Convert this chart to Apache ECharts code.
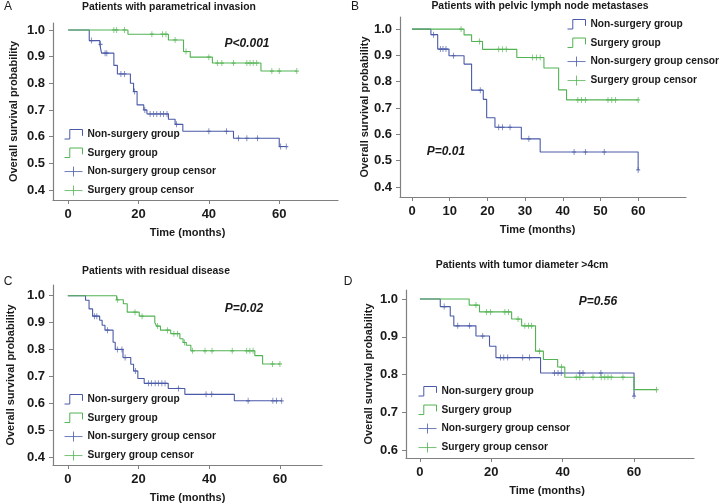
<!DOCTYPE html>
<html>
<head>
<meta charset="utf-8">
<script src="https://cdn.jsdelivr.net/npm/echarts@6/dist/echarts.min.js"></script>
<style>
html,body{margin:0;padding:0;background:#fff;}
#chart{width:722px;height:504px;}
</style>
</head>
<body>
<div id="chart"></div>
<script>
// ---------- DATA ----------
var panelTitles = ['Patients with parametrical invasion','Patients with pelvic lymph node metastases','Patients with residual disease','Patients with tumor diameter >4cm'];
var panelLetters = ['A','B','C','D'];
var pValues = ['P<0.001','P=0.01','P=0.02','P=0.56'];
var seriesNames = ['Non-surgery group','Surgery group','Non-surgery group censor','Surgery group censor'];
var xAxisName = 'Time (months)';
var yAxisName = 'Overall survival probability';

var xTicksA = [0,20,40,60];
var xTicksB = [0,10,20,30,40,50,60];
var xTicksC = [0,20,40,60];
var xTicksD = [0,20,40,60];
var yTicksABC = [0.4,0.5,0.6,0.7,0.8,0.9,1.0];
var yTicksD = [0.6,0.7,0.8,0.9,1.0];

// Panel A
var aNonTimes = [6,9,9.5,13,14,17.7,18.6,19.6,21.5,22.4,28.5,30.4,32.6,47,60];
var aNonSurv  = [0.96,0.946,0.913,0.867,0.835,0.80,0.769,0.719,0.70,0.685,0.665,0.646,0.62,0.594,0.563];
var aNonCens  = [6.6,9.2,10.5,11,15,16,18.9,21.8,23.3,24.3,25.2,26.2,27.1,28.1,30.8,40,45,48.4,50.8,53.8,60.4,62];
var aSurTimes = [17,28.5,32.8,34.7,41,54.8];
var aSurSurv  = [0.984,0.9625,0.919,0.898,0.876,0.846];
var aSurCens  = [13,13.8,16,23.8,26.8,27.8,30.4,33.5,40,42.4,43.7,47,50.8,51.7,52.6,53.6,57.9,60,65];

// Panel B
var bNonTimes = [5,6.8,9.8,13.8,15.8,18.9,19.8,22,29,34,60];
var bNonSurv  = [0.979,0.924,0.899,0.867,0.768,0.733,0.663,0.627,0.583,0.533,0.465];
var bNonCens  = [5.7,7.5,8.2,9,11,18.1,23,24,26,31,43,46,51,60];
var bSurTimes = [13.8,15.8,18.7,27.8,35,38.9,41];
var bSurSurv  = [0.978,0.953,0.923,0.892,0.852,0.769,0.731];
var bSurCens  = [13,17.9,23,24,25,32,33,34,44,45,46,52,53,54,60];

// Panel C
var cNonTimes = [5,6,7,9,9.7,10.5,12.8,13.4,15.6,17.8,18.6,19.8,21.6,28.4,33.1,47.1];
var cNonSurv  = [0.983,0.951,0.924,0.909,0.89,0.872,0.827,0.80,0.77,0.745,0.72,0.692,0.674,0.655,0.633,0.609];
var cNonCens  = [7.5,8.2,11.2,14,15.3,16.2,19.1,22.8,23.7,24.7,25.6,26.6,27.5,31.3,39.1,40.7,51,58,59,60.5];
var cSurTimes = [13.8,15.7,16.8,20.2,24.6,25.1,26.2,29.1,31.7,32.6,33.5,34.8,52.9,55.1];
var cSurSurv  = [0.985,0.97,0.939,0.924,0.90,0.887,0.872,0.859,0.84,0.826,0.816,0.795,0.777,0.746];
var cSurCens  = [14,19,21,25.4,28.2,30,31,33,35.3,38.8,40.8,46.5,50.6,51.5,52.4,57.9,60];

// Panel D
var dNonTimes = [5.7,8.5,9.5,15.7,19.5,21.3,33.8,60];
var dNonSurv  = [0.98,0.955,0.929,0.902,0.875,0.845,0.804,0.743];
var dNonCens  = [6.8,10.6,13.9,17.6,22.6,23.5,24.6,28.8,30.7,37.7,38.7,39.6,44.8,45.7,50.7,60];
var dSurTimes = [13.8,16.7,25.7,28.5,32.4,34.6,38.6,40.6,60];
var dSurSurv  = [0.984,0.966,0.947,0.929,0.862,0.84,0.82,0.793,0.76];
var dSurCens  = [15.7,18.7,19.8,23.8,24.8,27.5,29.4,30.4,31.3,33.5,39.7,43.8,44.8,48.5,50.8,51.8,52.7,53.6,56.9,66.3];

// ---------- STYLE / LAYOUT ----------
var BLUE = '#4a5aa8', GREEN = '#52b352', AXIS = '#808080', TXT = '#1a1a1a';
var FONT = 'Liberation Sans, Arial, sans-serif';
var panels = [
  {grid:{left:53,top:23,width:285,height:177}, xr:[-4.3,76.7], yr:[0.3625,1.026], xt:xTicksA, yt:yTicksABC,
   non:[aNonTimes,aNonSurv,aNonCens], sur:[aSurTimes,aSurSurv,aSurCens],
   title:[169,7], letter:[8,7], p:[247,44], legend:{left:62,top:127}, yName:34, xNamePad:[0,16,0,0]},
  {grid:{left:400,top:17,width:286,height:180}, xr:[-3.2,72.7], yr:[0.362,1.046], xt:xTicksB, yt:yTicksABC,
   non:[bNonTimes,bNonSurv,bNonCens], sur:[bSurTimes,bSurSurv,bSurCens],
   title:[540,6], letter:[355,7], p:[446,152], legend:{left:565,top:17}, yName:26, xNamePad:[0,11,0,0]},
  {grid:{left:53,top:285,width:269,height:182}, xr:[-4.2,71.9], yr:[0.37,1.04], xt:xTicksC, yt:yTicksABC,
   non:[cNonTimes,cNonSurv,cNonCens], sur:[cSurTimes,cSurSurv,cSurCens],
   title:[156,271], letter:[8,282], p:[244,309], legend:{left:62,top:392}, yName:37, xNamePad:[0,0,0,0]},
  {grid:{left:406,top:290,width:288,height:168}, xr:[-3.9,76.8], yr:[0.579,1.024], xt:xTicksD, yt:yTicksD,
   non:[dNonTimes,dNonSurv,dNonCens], sur:[dSurTimes,dSurSurv,dSurCens],
   title:[522,265], letter:[348,282], p:[598,302], legend:{left:416,top:384}, yName:32, xNamePad:[0,6,0,0]}
];

function survAt(times, surv, t){
  var s = 1;
  for (var i=0;i<times.length;i++){ if (times[i] <= t) s = surv[i]; }
  return s;
}
function kmLine(times, surv, cens){
  var pts = [[0,1]];
  for (var i=0;i<times.length;i++) pts.push([times[i], surv[i]]);
  var end = Math.max(times[times.length-1], cens.length ? cens[cens.length-1] : 0);
  pts.push([end, survAt(times, surv, end)]);
  return pts;
}
function kmCens(times, surv, cens){
  return cens.map(function(t){ return [t, survAt(times, surv, t)]; });
}

var STEP_ICON = 'path://M0,10L5,10L5,1L17,1L17,7';
var PLUS_ICON = 'path://M0,5L18,5M9,0L9,10';
var CENS_SYM = 'path://M0,5L10,5M5,0L5,10';

var grids=[], xAxes=[], yAxes=[], series=[], legends=[], graphics=[];
panels.forEach(function(p, k){
  grids.push(p.grid);
  xAxes.push({
    type:'value', gridIndex:k, min:p.xr[0], max:p.xr[1],
    name:xAxisName, nameLocation:'middle', nameGap:27,
    nameTextStyle:{fontFamily:FONT, fontWeight:'bold', fontSize:11, color:TXT, padding:p.xNamePad},
    axisLine:{show:true, onZero:false, lineStyle:{color:AXIS, width:1.2}},
    axisTick:{show:true, length:4, customValues:p.xt, lineStyle:{color:AXIS}},
    axisLabel:{customValues:p.xt, margin:8, fontFamily:FONT, fontWeight:'bold', fontSize:13, color:TXT},
    splitLine:{show:false}
  });
  yAxes.push({
    type:'value', gridIndex:k, min:p.yr[0], max:p.yr[1],
    name:yAxisName, nameLocation:'middle', nameGap:p.yName,
    nameTextStyle:{fontFamily:FONT, fontWeight:'bold', fontSize:11, color:TXT},
    axisLine:{show:true, onZero:false, lineStyle:{color:AXIS, width:1.2}},
    axisTick:{show:true, length:4, customValues:p.yt, lineStyle:{color:AXIS}},
    axisLabel:{customValues:p.yt, margin:8, fontFamily:FONT, fontWeight:'bold', fontSize:13, color:TXT,
      formatter:function(v){ return v.toFixed(1); }},
    splitLine:{show:false}
  });
  var groups = [[p.non, BLUE, 0], [p.sur, GREEN, 1]];
  groups.forEach(function(g){
    var d = g[0];
    series.push({
      type:'line', name:seriesNames[g[2]], xAxisIndex:k, yAxisIndex:k, step:'end',
      data:kmLine(d[0], d[1], d[2]), showSymbol:false, symbol:'none', silent:true, animation:false,
      lineStyle:{color:g[1], width:1.1}, itemStyle:{color:g[1]}
    });
  });
  groups.forEach(function(g){
    var d = g[0];
    series.push({
      type:'scatter', name:seriesNames[g[2]+2], xAxisIndex:k, yAxisIndex:k,
      data:kmCens(d[0], d[1], d[2]), symbol:CENS_SYM, symbolSize:[4,6], silent:true, animation:false,
      itemStyle:{color:'none', borderColor:g[1], borderWidth:1}, z:3
    });
  });
  legends.push({
    left:p.legend.left, top:p.legend.top, orient:'vertical', itemWidth:18, itemHeight:10, itemGap:4,
    selectedMode:false, padding:0,
    textStyle:{fontFamily:FONT, fontWeight:'bold', fontSize:10.2, color:TXT, lineHeight:14},
    data:[
      {name:seriesNames[0], icon:STEP_ICON, itemStyle:{color:'none', borderColor:BLUE, borderWidth:1}},
      {name:seriesNames[1], icon:STEP_ICON, itemStyle:{color:'none', borderColor:GREEN, borderWidth:1}},
      {name:seriesNames[2], icon:PLUS_ICON, itemStyle:{color:'none', borderColor:BLUE, borderWidth:1}},
      {name:seriesNames[3], icon:PLUS_ICON, itemStyle:{color:'none', borderColor:GREEN, borderWidth:1}}
    ]
  });
  graphics.push({type:'text', x:p.title[0], y:p.title[1], style:{text:panelTitles[k], font:'bold 10.4px '+FONT, fill:TXT, textAlign:'center', textVerticalAlign:'middle'}});
  graphics.push({type:'text', x:p.letter[0], y:p.letter[1], style:{text:panelLetters[k], font:'12px '+FONT, fill:TXT, textAlign:'center', textVerticalAlign:'middle'}});
  graphics.push({type:'text', x:p.p[0], y:p.p[1], style:{text:pValues[k], font:'italic bold 12px '+FONT, fill:TXT, textAlign:'center', textVerticalAlign:'middle'}});
});

var chart = echarts.init(document.getElementById('chart'), null, {renderer:'canvas'});
chart.setOption({
  animation:false,
  backgroundColor:'#fff',
  grid:grids, xAxis:xAxes, yAxis:yAxes, series:series, legend:legends, graphic:graphics
});
</script>
</body>
</html>
